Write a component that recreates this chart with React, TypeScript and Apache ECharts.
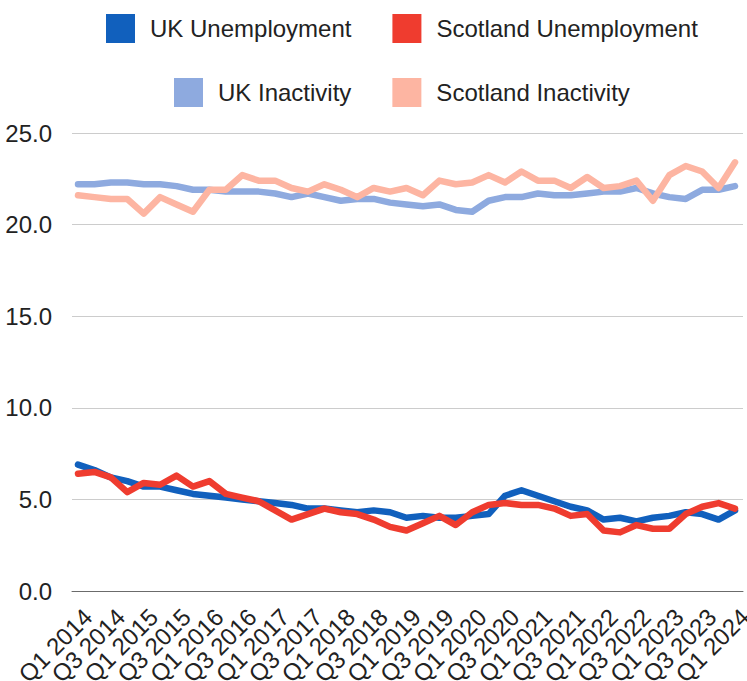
import React, { useEffect, useRef } from "react";
import * as echarts from "echarts";

const quarters = [
  "Q1 2014", "Q2 2014", "Q3 2014", "Q4 2014",
  "Q1 2015", "Q2 2015", "Q3 2015", "Q4 2015",
  "Q1 2016", "Q2 2016", "Q3 2016", "Q4 2016",
  "Q1 2017", "Q2 2017", "Q3 2017", "Q4 2017",
  "Q1 2018", "Q2 2018", "Q3 2018", "Q4 2018",
  "Q1 2019", "Q2 2019", "Q3 2019", "Q4 2019",
  "Q1 2020", "Q2 2020", "Q3 2020", "Q4 2020",
  "Q1 2021", "Q2 2021", "Q3 2021", "Q4 2021",
  "Q1 2022", "Q2 2022", "Q3 2022", "Q4 2022",
  "Q1 2023", "Q2 2023", "Q3 2023", "Q4 2023",
  "Q1 2024",
];

const ukUnemployment = [
  6.9, 6.6, 6.2, 6.0, 5.7, 5.7, 5.5, 5.3, 5.2, 5.1,
  5.0, 4.9, 4.8, 4.7, 4.5, 4.5, 4.4, 4.3, 4.4, 4.3,
  4.0, 4.1, 4.0, 4.0, 4.1, 4.2, 5.2, 5.5, 5.2, 4.9,
  4.6, 4.4, 3.9, 4.0, 3.8, 4.0, 4.1, 4.3, 4.2, 3.9,
  4.4,
];

const scotlandUnemployment = [
  6.4, 6.5, 6.2, 5.4, 5.9, 5.8, 6.3, 5.7, 6.0, 5.3,
  5.1, 4.9, 4.4, 3.9, 4.2, 4.5, 4.3, 4.2, 3.9, 3.5,
  3.3, 3.7, 4.1, 3.6, 4.3, 4.7, 4.8, 4.7, 4.7, 4.5,
  4.1, 4.2, 3.3, 3.2, 3.6, 3.4, 3.4, 4.2, 4.6, 4.8,
  4.5,
];

const ukInactivity = [
  22.2, 22.2, 22.3, 22.3, 22.2, 22.2, 22.1, 21.9, 21.9, 21.8,
  21.8, 21.8, 21.7, 21.5, 21.7, 21.5, 21.3, 21.4, 21.4, 21.2,
  21.1, 21.0, 21.1, 20.8, 20.7, 21.3, 21.5, 21.5, 21.7, 21.6,
  21.6, 21.7, 21.8, 21.8, 22.0, 21.7, 21.5, 21.4, 21.9, 21.9,
  22.1,
];

const scotlandInactivity = [
  21.6, 21.5, 21.4, 21.4, 20.6, 21.5, 21.1, 20.7, 21.9, 21.9,
  22.7, 22.4, 22.4, 22.0, 21.8, 22.2, 21.9, 21.5, 22.0, 21.8,
  22.0, 21.6, 22.4, 22.2, 22.3, 22.7, 22.3, 22.9, 22.4, 22.4,
  22.0, 22.6, 22.0, 22.1, 22.4, 21.3, 22.7, 23.2, 22.9, 22.0,
  23.4,
];

const labelIndices = [0, 2, 4, 6, 8, 10, 12, 14, 16, 18, 20, 22, 24, 26, 28, 30, 32, 34, 36, 38, 40];

const seriesDefs = [
  { name: "UK Unemployment", data: ukUnemployment, color: "#1160bd" },
  { name: "Scotland Unemployment", data: scotlandUnemployment, color: "#ef3c2f" },
  { name: "UK Inactivity", data: ukInactivity, color: "#8eaadf" },
  { name: "Scotland Inactivity", data: scotlandInactivity, color: "#fdb5a2" },
];

const FONT = "'Liberation Sans', Arial, sans-serif";
const X_MIN = -0.3653;
const X_MAX = 40.4867;

export default function App() {
  const ref = useRef<HTMLDivElement>(null);

  useEffect(() => {
    document.body.style.margin = "0";
    if (!ref.current) return;
    const chart = echarts.init(ref.current, undefined, { renderer: "svg" });

    const legendCommon = {
      orient: "horizontal",
      icon: "rect",
      itemWidth: 29,
      itemHeight: 29,
      itemGap: 41,
      padding: 0,
      selectedMode: false,
      textStyle: { fontSize: 24, color: "#222", fontFamily: FONT, padding: [0, 0, 2, 10] },
    };

    // sentinel (empty) labels at the axis ends keep the real end labels from being auto-hidden
    const customValues = [X_MIN + 0.001, ...labelIndices, X_MAX - 0.001];

    chart.setOption({
      animation: false,
      textStyle: { fontFamily: FONT },
      legend: [
        { ...legendCommon, left: 106, top: 14, data: ["UK Unemployment", "Scotland Unemployment"] },
        { ...legendCommon, left: 174, top: 78, data: ["UK Inactivity", "Scotland Inactivity"] },
      ],
      grid: { left: 72, right: 4, top: 133, bottom: 90, containLabel: false, outerBoundsMode: "none" },
      xAxis: {
        type: "value",
        min: X_MIN,
        max: X_MAX,
        axisLine: { show: true, lineStyle: { color: "#6b6b6b", width: 1 } },
        axisTick: { show: false },
        splitLine: { show: false },
        axisLabel: {
          customValues,
          formatter: (v: number) =>
            Math.abs(v - Math.round(v)) < 0.01 ? quarters[Math.round(v)] ?? "" : "",
          rotate: 45,
          fontSize: 24,
          color: "#222",
          fontFamily: FONT,
          verticalAlign: "top",
          padding: [2, 0, 0, 0],
          margin: 12,
          showMinLabel: false,
          showMaxLabel: false,
          hideOverlap: false,
        },
      },
      yAxis: {
        type: "value",
        min: 0,
        max: 25,
        interval: 5,
        axisLine: { show: false },
        axisTick: { show: false },
        splitLine: { lineStyle: { color: "#cccccc", width: 1 } },
        axisLabel: {
          formatter: (v: number) => v.toFixed(1),
          fontSize: 24,
          color: "#222",
          fontFamily: FONT,
          margin: 20,
          showMinLabel: true,
          showMaxLabel: true,
        },
      },
      series: seriesDefs.map((s) => ({
        name: s.name,
        type: "line",
        data: s.data.map((v, i) => [i, v]),
        showSymbol: false,
        symbol: "none",
        color: s.color,
        itemStyle: { color: s.color },
        lineStyle: { color: s.color, width: 6.5, cap: "round", join: "round" },
        emphasis: { disabled: true },
      })),
    });

    return () => chart.dispose();
  }, []);

  return <div ref={ref} style={{ width: 747, height: 681 }} />;
}
